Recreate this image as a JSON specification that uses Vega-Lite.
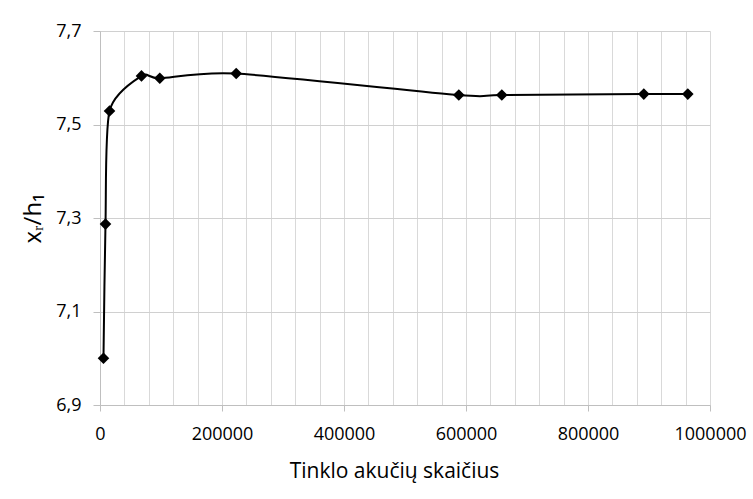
{
  "$schema": "https://vega.github.io/schema/vega-lite/v6.json",
  "width": 610,
  "height": 374,
  "autosize": "none",
  "padding": {"left": 100, "top": 31, "right": 43, "bottom": 94},
  "background": "white",
  "config": {"view": {"stroke": null}, "font": "Open Sans"},
  "data": {"values": [
    {"n": 5700, "v": 7.000},
    {"n": 9000, "v": 7.287},
    {"n": 15600, "v": 7.529},
    {"n": 68000, "v": 7.604},
    {"n": 98000, "v": 7.599},
    {"n": 223300, "v": 7.609},
    {"n": 588200, "v": 7.563},
    {"n": 658700, "v": 7.563},
    {"n": 891500, "v": 7.565},
    {"n": 963600, "v": 7.565}
  ]},
  "encoding": {
    "x": {
      "field": "n", "type": "quantitative",
      "scale": {"domain": [0, 1000000], "nice": false, "zero": false},
      "axis": {
        "values": [0,40000,80000,120000,160000,200000,240000,280000,320000,360000,400000,440000,480000,520000,560000,600000,640000,680000,720000,760000,800000,840000,880000,920000,960000,1000000],
        "labelExpr": "datum.value % 200000 === 0 ? format(datum.value, 'd') : ''",
        "labelOverlap": false,
        "labelFlush": false,
        "labelFontSize": 18,
        "labelColor": "#000000",
        "labelPadding": 14,
        "tickSize": 6,
        "tickColor": "#bfbfbf",
        "tickOpacity": {"condition": {"test": "datum.value % 200000 === 0", "value": 1}, "value": 0},
        "domainColor": "#bfbfbf",
        "grid": true,
        "gridColor": "#d9d9d9",
        "title": "Tinklo akučių skaičius",
        "titleFontSize": 21,
        "titleFontWeight": "normal",
        "titleColor": "#000000",
        "titleX": 294,
        "titleY": 72,
        "titleBaseline": "alphabetic"
      }
    },
    "y": {
      "field": "v", "type": "quantitative",
      "scale": {"domain": [6.9, 7.7], "nice": false, "zero": false},
      "axis": {
        "values": [6.9, 7.1, 7.3, 7.5, 7.7],
        "labelExpr": "replace(format(datum.value, '.1f'), '.', ',')",
        "labelFontSize": 18,
        "labelColor": "#000000",
        "labelPadding": 12,
        "tickSize": 7,
        "tickColor": "#bfbfbf",
        "domainColor": "#bfbfbf",
        "grid": true,
        "gridColor": "#d0d0d0",
        "title": "xᵣ/h₁",
        "titleFontSize": 24,
        "titleFontWeight": "normal",
        "titleColor": "#000000",
        "titleX": -60,
        "titleY": 187,
        "titleAngle": 270,
        "titleAlign": "center",
        "titleBaseline": "alphabetic"
      }
    }
  },
  "layer": [
    {"mark": {"type": "line", "interpolate": "cardinal", "tension": 0.25, "color": "#000000", "strokeWidth": 2}},
    {"mark": {"type": "point", "shape": "diamond", "filled": true, "color": "#000000", "size": 135, "opacity": 1}}
  ]
}
